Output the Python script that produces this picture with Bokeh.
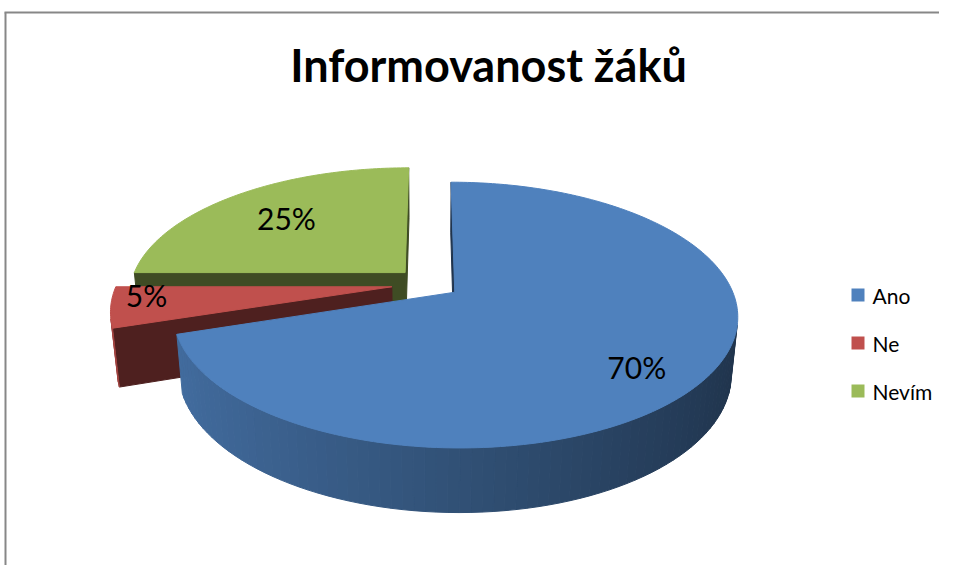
import numpy as np
from bokeh.plotting import figure
from bokeh.models import Range1d
from bokeh.core.properties import value
from bokeh.embed import file_html
from bokeh.resources import INLINE

# ---- data ----
title = "Informovanost žáků"
categories = ["Ano", "Ne", "Nevím"]
values = [70, 5, 25]
labels = ["70%", "5%", "25%"]

# ---- style ----
base_colors = ["#4F81BD", "#C0504D", "#9BBB59"]
explode = [0.11, 0.14, 0.13]
label_r = [0.79, 0.88, 0.68]
label_shift_deg = [6, 5, 0]

W, H = 939, 565
p = figure(width=W, height=H, x_range=Range1d(0, W), y_range=Range1d(H, 0),
           output_backend="svg", toolbar_location=None, min_border=0,
           x_axis_location=None, y_axis_location=None)
p.grid.visible = False
p.outline_line_color = None
p.background_fill_color = "white"
p.border_fill_color = "white"

# projection parameters (3D pie with perspective)
alpha = np.radians(27.3)
D = 5.23
S = 275.0
CX, CY = 429.5, 283.5
HGT = 0.236
sa, ca = np.sin(alpha), np.cos(alpha)
cam = np.array([0.0, D * sa, -D * ca])


def proj(X, Y, Z):
    X = np.asarray(X, float); Y = np.asarray(Y, float); Z = np.asarray(Z, float)
    depth = D - Y * sa + Z * ca
    yc = Y * ca + Z * sa
    return CX + S * D * X / depth, CY - S * D * yc / depth


def shade(hexc, f):
    h = hexc.lstrip("#")
    r, g, b = (int(h[i:i + 2], 16) for i in (0, 2, 4))
    return "#%02x%02x%02x" % (int(r * f), int(g * f), int(b * f))


total = float(sum(values))
bounds = np.concatenate([[0.0], np.cumsum(values)]) / total * 2 * np.pi
mids = (bounds[:-1] + bounds[1:]) / 2

order = sorted(range(len(values)), key=lambda i: -np.cos(mids[i]))

for i in order:
    a0, a1, am = bounds[i], bounds[i + 1], mids[i]
    ox, oz = explode[i] * np.sin(am), explode[i] * np.cos(am)
    col = base_colors[i]
    xs, ys, cs = [], [], []
    # radial faces
    for ang, nvec in ((a0, np.array([-np.cos(a0), 0, np.sin(a0)])),
                      (a1, np.array([np.cos(a1), 0, -np.sin(a1)]))):
        P = np.array([ox, -HGT / 2, oz])
        if np.dot(cam - P, nvec) > 0:
            X = [ox, ox + np.sin(ang), ox + np.sin(ang), ox]
            Y = [0, 0, -HGT, -HGT]
            Z = [oz, oz + np.cos(ang), oz + np.cos(ang), oz]
            sx, sy = proj(X, Y, Z)
            xs.append(list(sx)); ys.append(list(sy)); cs.append(shade(col, 0.41))
    # outer wall
    nseg = max(int(np.degrees(a1 - a0) / 2), 2)
    phis = np.linspace(a0, a1, nseg + 1)
    for pa, pb in zip(phis[:-1], phis[1:]):
        pm = (pa + pb) / 2
        n = np.array([np.sin(pm), 0, np.cos(pm)])
        P = np.array([ox + np.sin(pm), -HGT / 2, oz + np.cos(pm)])
        if np.dot(cam - P, n) > 0:
            X = [ox + np.sin(pa), ox + np.sin(pb), ox + np.sin(pb), ox + np.sin(pa)]
            Y = [0, 0, -HGT, -HGT]
            Z = [oz + np.cos(pa), oz + np.cos(pb), oz + np.cos(pb), oz + np.cos(pa)]
            sx, sy = proj(X, Y, Z)
            xs.append(list(sx)); ys.append(list(sy))
            cs.append(shade(col, 0.625 - 0.225 * np.sin(pm)))
    if xs:
        p.patches(xs, ys, fill_color=cs, line_color=cs, line_width=1)
    # top face
    arc = np.linspace(a0, a1, max(int(np.degrees(a1 - a0)), 4) + 1)
    X = np.concatenate([[ox], ox + np.sin(arc)])
    Z = np.concatenate([[oz], oz + np.cos(arc)])
    sx, sy = proj(X, np.zeros_like(X), Z)
    p.patch(list(sx), list(sy), fill_color=col, line_color=col, line_width=1)

# data labels
lx, ly = [], []
for i in range(len(values)):
    am = mids[i]
    ox, oz = explode[i] * np.sin(am), explode[i] * np.cos(am)
    la = am + np.radians(label_shift_deg[i])
    sx, sy = proj(ox + label_r[i] * np.sin(la), 0.0, oz + label_r[i] * np.cos(la))
    lx.append(float(sx)); ly.append(float(sy))
p.text(x=lx, y=ly, text=labels, text_font=value("Lato"), text_font_size="30px",
       text_align="center", text_baseline="middle", text_color="black")

# title
p.text(x=[488], y=[64], text=[title], text_font=value("Lato"), text_font_size="45px",
       text_font_style="bold", text_align="center", text_baseline="middle", text_color="black")

# legend
leg_y = [294.5 + 48 * k for k in range(len(categories))]
p.rect(x=[857.5] * len(categories), y=leg_y, width=13, height=13,
       fill_color=base_colors, line_color=None)
p.text(x=[872] * len(categories), y=leg_y, text=categories,
       text_font=value("Lato"), text_font_size="21px", text_align="left",
       text_baseline="middle", text_color="black")

# chart border
p.segment(x0=[4, 5], y0=[12, 12], x1=[W, 5], y1=[12, H], line_color="#878787", line_width=2)

open("out.html", "w").write(file_html(p, INLINE))
